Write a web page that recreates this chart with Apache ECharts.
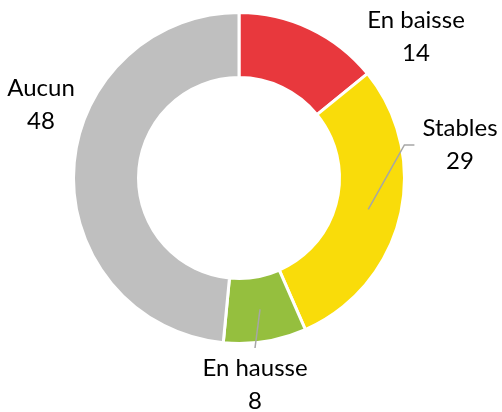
<!DOCTYPE html>
<html>
<head>
<meta charset="utf-8">
<script src="https://cdn.jsdelivr.net/npm/echarts@6/dist/echarts.min.js"></script>
<style>
  html, body { margin: 0; background: #fff; }
  #chart { width: 502px; height: 412px; }
</style>
</head>
<body>
<div id="chart"></div>
<script>
const categories = ['En baisse', 'Stables', 'En hausse', 'Aucun'];
const values = [14, 29, 8, 48];
const colors = ['#E8383D', '#F9DC0A', '#95BF3E', '#BFBFBF'];

// centre of each label block, and whether it gets a leader line
const labelPos = [[416, 37], [460, 145], [255, 385], [41, 105]];
const withLine = [false, true, true, false];

const center = [239, 178];
const chart = echarts.init(document.getElementById('chart'));

chart.setOption({
  animation: false,
  series: [
    // the ring itself
    {
      type: 'pie',
      z: 1,
      center: center,
      radius: [100.5, 165.5],
      startAngle: 90,
      silent: true,
      label: { show: false },
      labelLine: { show: false },
      itemStyle: { borderColor: '#fff', borderWidth: 3 },
      data: categories.map((n, i) => ({ name: n, value: values[i], itemStyle: { color: colors[i] } }))
    },
    // invisible pie out to mid-ring, only used to carry the labels and leader lines
    {
      type: 'pie',
      z: 5,
      center: center,
      radius: [0, 133],
      startAngle: 90,
      silent: true,
      avoidLabelOverlap: false,
      itemStyle: { color: 'rgba(0,0,0,0)' },
      label: {
        show: true,
        position: 'outside',
        formatter: '{b}\n{c}',
        fontFamily: 'Lato',
        fontSize: 24,
        lineHeight: 33,
        color: '#000',
        align: 'center'
      },
      labelLine: { show: true, lineStyle: { color: '#A6A6A6', width: 1.5 } },
      labelLayout: function (p) {
        const x = labelPos[p.dataIndex][0], y = labelPos[p.dataIndex][1];
        const out = { x: x, y: y, align: 'center', verticalAlign: 'middle' };
        if (withLine[p.dataIndex] && p.labelLinePoints) {
          const s = p.labelLinePoints[0];
          const w = p.labelRect.width, h = p.labelRect.height;
          if (x - w / 2 > s[0]) {
            const ex = x - w / 2 - 8;
            out.labelLinePoints = [s, [ex - 10, y], [ex, y]];
          } else {
            const ey = y - h / 2 - 4;
            out.labelLinePoints = [s, [x, ey], [x, ey]];
          }
        }
        return out;
      },
      data: categories.map((n, i) => ({ name: n, value: values[i], labelLine: { show: withLine[i] } }))
    }
  ]
});
window.addEventListener('resize', function () { chart.resize(); });
</script>
</body>
</html>
